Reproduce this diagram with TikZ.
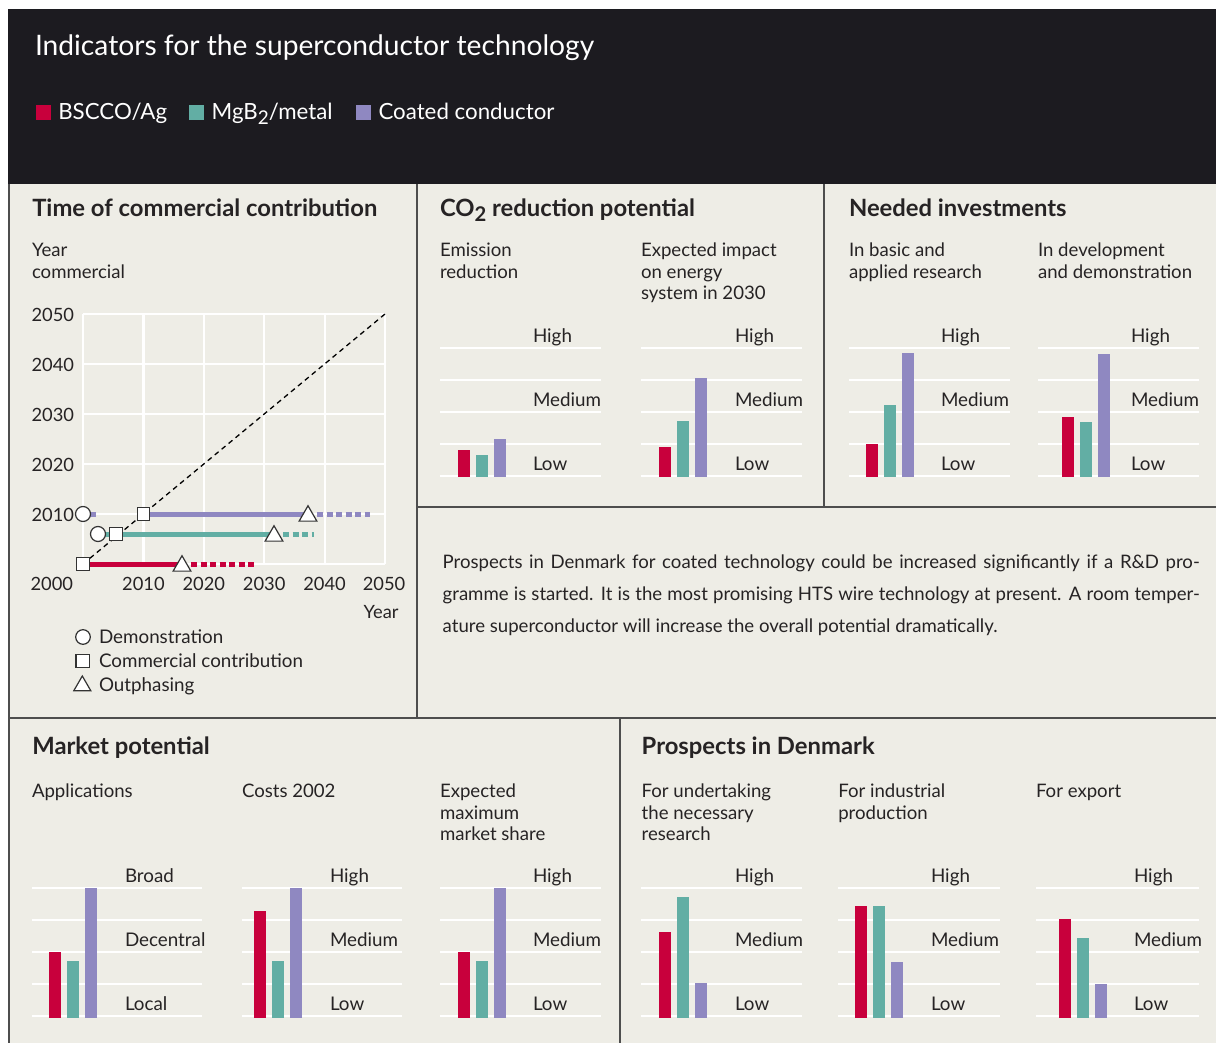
\documentclass[tikz,border=0pt]{standalone}
\usepackage{fontspec}
\setmainfont{Lato}
\usetikzlibrary{shapes.geometric}
\definecolor{hdr}{HTML}{1C1B20}
\definecolor{panelbg}{HTML}{EEEDE6}
\definecolor{ink}{HTML}{262324}
\definecolor{bord}{HTML}{4E4E4E}
\definecolor{mkline}{HTML}{333333}
\definecolor{cred}{HTML}{C8003C}
\definecolor{cteal}{HTML}{62AEA4}
\definecolor{cpur}{HTML}{8F88C1}
\newcommand\lowtwo{\raisebox{-0.2em}{\scalebox{0.85}{2}}}
\tikzset{
  txt/.style={anchor=base west, inner sep=0pt, outer sep=0pt, text=ink},
  ttl/.style={txt, font=\bfseries\fontsize{23.8}{28}\selectfont},
  sub/.style={txt, align=left, font=\fontsize{18.6}{21.5}\selectfont},
  lv/.style={txt, font=\fontsize{18.8}{21}\selectfont},
  tick/.style={inner sep=0pt, outer sep=0pt, text=ink, font=\fontsize{18.3}{21}\selectfont},
  gridw/.style={white, line width=2.2pt},
  mk/.style={draw=mkline, fill=white, line width=1.2pt, inner sep=0pt},
  circmk/.style={mk, circle, minimum size=15pt},
  sqmk/.style={mk, rectangle, minimum size=12.5pt},
  trimk/.style={mk, regular polygon, regular polygon sides=3, minimum size=20.5pt},
  ser/.style={line width=5pt},
  serdot/.style={line width=5pt, dash pattern=on 6pt off 3.5pt},
  border/.style={draw=bord, line width=1.3pt},
  diag/.style={black, line width=1.3pt, dash pattern=on 5pt off 4pt},
  legsq/.style={inner sep=0pt, minimum size=15pt},
  hleg/.style={txt, text=white, font=\fontsize{22.3}{26}\selectfont}
}
\newcommand\bars[5]{%
  \fill[cred] (#1,#2) rectangle (#1+12,#3);
  \fill[cteal] (#1+18,#2) rectangle (#1+30,#4);
  \fill[cpur] (#1+36,#2) rectangle (#1+48,#5);}
\newcommand\levels[8]{%
  \foreach \k in {0,...,4} \draw[gridw] (#2,#4-32*\k) -- (#3,#4-32*\k);
  \node[lv] (#1top) at (#5,#4-133.5) {#6};
  \node[lv] (#1mid) at (#5,#4-69.5) {#7};
  \node[lv] (#1low) at (#5,#4-5.5) {#8};}
\begin{document}
\begin{tikzpicture}[x=1pt,y=-1pt]
\useasboundingbox (0,0) rectangle (1216,1043);
\fill[white] (0,0) rectangle (1216,1043);
% header
\fill[hdr] (8,9) rectangle (1216,184);
\fill[panelbg] (8,184) rectangle (1216,1043);
\node[txt, text=white, font=\fontsize{28.2}{32}\selectfont] (title) at (35,55.7) {Indicators for the superconductor technology};
\node[legsq, fill=cred, anchor=south west] (sqR) at (35.5,120) {};
\node[hleg] (legR) at (58.3,120) {BSCCO/Ag};
\node[legsq, fill=cteal, anchor=south west] (sqT) at (188.3,120) {};
\node[hleg] (legT) at (211.7,120) {MgB\lowtwo/metal};
\node[legsq, fill=cpur, anchor=south west] (sqP) at (356,120) {};
\node[hleg] (legP) at (378.5,120) {Coated conductor};
% borders
\draw[border] (9,184) -- (9,1043);
\draw[border] (417,184) -- (417,718);
\draw[border] (824,184) -- (824,507);
\draw[border] (417,507) -- (1216,507);
\draw[border] (9,718) -- (1216,718);
\draw[border] (620,718) -- (620,1043);
% section titles
\node[ttl] (t1) at (32.3,216.7) {Time of commercial contribution};
\node[ttl] (t2) at (440,216.7) {CO\lowtwo\ reduction potential};
\node[ttl] (t3) at (849,216.7) {Needed investments};
\node[ttl] (t4) at (32.3,754.3) {Market potential};
\node[ttl] (t5) at (641.7,754.3) {Prospects in Denmark};
% subtitles row 1 (anchor = baseline of last line)
\node[sub] (s1) at (32,278.2) {Year\\commercial};
\node[sub] (s2) at (440,278.2) {Emission\\reduction};
\node[sub] (s3) at (641,299.7) {Expected impact\\on energy\\system in 2030};
\node[sub] (s4) at (849,278.2) {In basic and\\applied research};
\node[sub] (s5) at (1038,278.2) {In development\\and demonstration};
% subtitles row 2
\node[sub] (s6) at (32,797.7) {Applications};
\node[sub] (s7) at (242,797.7) {Costs 2002};
\node[sub] (s8) at (440,840.7) {Expected\\maximum\\market share};
\node[sub] (s9) at (641.7,840.7) {For undertaking\\the necessary\\research};
\node[sub] (s10) at (838.3,819.2) {For industrial\\production};
\node[sub] (s11) at (1036,797.7) {For export};
% time chart grid
\foreach \i in {0,...,5} {
  \draw[gridw] (83+60.4*\i,314) -- (83+60.4*\i,564);
  \draw[gridw] (83,314+50*\i) -- (385,314+50*\i);
}
\coordinate (o) at (83,564);
\coordinate (e) at (385,314);
\draw[diag] (o) -- (e);
% tick labels
\node[tick, anchor=base east] (y50) at (74,321.5) {2050};
\node[tick, anchor=base east] (y40) at (74,371.5) {2040};
\node[tick, anchor=base east] (y30) at (74,421.5) {2030};
\node[tick, anchor=base east] (y20) at (74,471.5) {2020};
\node[tick, anchor=base east] (y10) at (74,521.5) {2010};
\node[tick, anchor=base east] (x00) at (73,590) {2000};
\node[tick, anchor=base] (x10) at (143.4,590) {2010};
\node[tick, anchor=base] (x20) at (203.8,590) {2020};
\node[tick, anchor=base] (x30) at (264.2,590) {2030};
\node[tick, anchor=base] (x40) at (324.6,590) {2040};
\node[tick, anchor=base] (x50) at (384,590) {2050};
\node[tick, anchor=base east] (xyear) at (398.5,618) {Year};
% series coordinates
\coordinate (pd) at (83,514);   \coordinate (pc) at (143.4,514); \coordinate (pt) at (308,514);
\coordinate (pds) at (317,514); \coordinate (pend) at (370,514); \coordinate (pdx) at (96,514);
\coordinate (td) at (98,534);   \coordinate (tc) at (116,534);   \coordinate (tt) at (274,534);
\coordinate (tds) at (283,534); \coordinate (tend) at (314,534);
\coordinate (rc) at (83,564);   \coordinate (rt) at (182,564);
\coordinate (rds) at (191,564); \coordinate (rend) at (256,564);
% series lines
\draw[ser, cpur] (pd) -- (pdx);
\draw[ser, cpur] (pc) -- (pt);
\draw[serdot, cpur] (pds) -- (pend);
\draw[ser, cteal] (td) -- (tt);
\draw[serdot, cteal] (tds) -- (tend);
\draw[ser, cred] (rc) -- (rt);
\draw[serdot, cred] (rds) -- (rend);
% markers
\node[circmk] (pD) at (pd) {};
\node[sqmk] (pC) at (pc) {};
\node[trimk] (pT) at ([yshift=-2pt]pt) {};
\node[circmk] (tD) at (td) {};
\node[sqmk] (tC) at (tc) {};
\node[trimk] (tT) at ([yshift=-2pt]tt) {};
\node[sqmk] (rC) at (rc) {};
\node[trimk] (rT) at ([yshift=-2pt]rt) {};
% legend of markers
\node[circmk, minimum size=14.6pt] (lgD) at (83,637) {};
\node[sqmk, minimum size=13.3pt] (lgC) at (82.7,661) {};
\node[trimk, minimum size=19.6pt] (lgT) at (82.3,685.8) {};
\node[lv] (lgDt) at (99,643) {Demonstration};
\node[lv] (lgCt) at (99,667) {Commercial contribution};
\node[lv] (lgTt) at (99,691) {Outphasing};
% bar charts row 1
\levels{a}{440}{601}{476}{533}{High}{Medium}{Low}
\levels{b}{641}{802}{476}{735}{High}{Medium}{Low}
\levels{c}{849}{1010}{476}{941}{High}{Medium}{Low}
\levels{d}{1038}{1199}{476}{1131}{High}{Medium}{Low}
\bars{458}{477}{450}{455}{439}
\bars{659}{477}{447}{421}{378}
\bars{866}{477}{444}{405}{353}
\bars{1062}{477}{417}{422}{354}
% bar charts row 2
\levels{f}{32}{202}{1016}{125}{Broad}{Decentral}{Local}
\levels{g}{242}{402}{1016}{330}{High}{Medium}{Low}
\levels{h}{440}{601}{1016}{533}{High}{Medium}{Low}
\levels{i}{641}{802}{1016}{735}{High}{Medium}{Low}
\levels{j}{838}{1000}{1016}{931}{High}{Medium}{Low}
\levels{k}{1036}{1199}{1016}{1134}{High}{Medium}{Low}
\bars{49}{1017.5}{952}{961}{888}
\bars{254}{1017.5}{911}{961}{888}
\bars{458}{1017.5}{952}{961}{888}
\bars{659}{1017.5}{932}{897}{983}
\bars{855}{1017.5}{906}{906}{962}
\bars{1059}{1017.5}{919}{938}{984}
% paragraph (anchor = baseline of last line)
\node[txt, align=left, font=\fontsize{18.6}{32.2}\selectfont] (para) at (442.7,632.7)
 {\makebox[757pt][s]{Prospects in Denmark for coated technology could be increased significantly if a R\&D pro-}\\
  \makebox[757pt][s]{gramme is started. It is the most promising HTS wire technology at present. A room temper-}\\
  ature superconductor will increase the overall potential dramatically.};
\end{tikzpicture}
\end{document}
